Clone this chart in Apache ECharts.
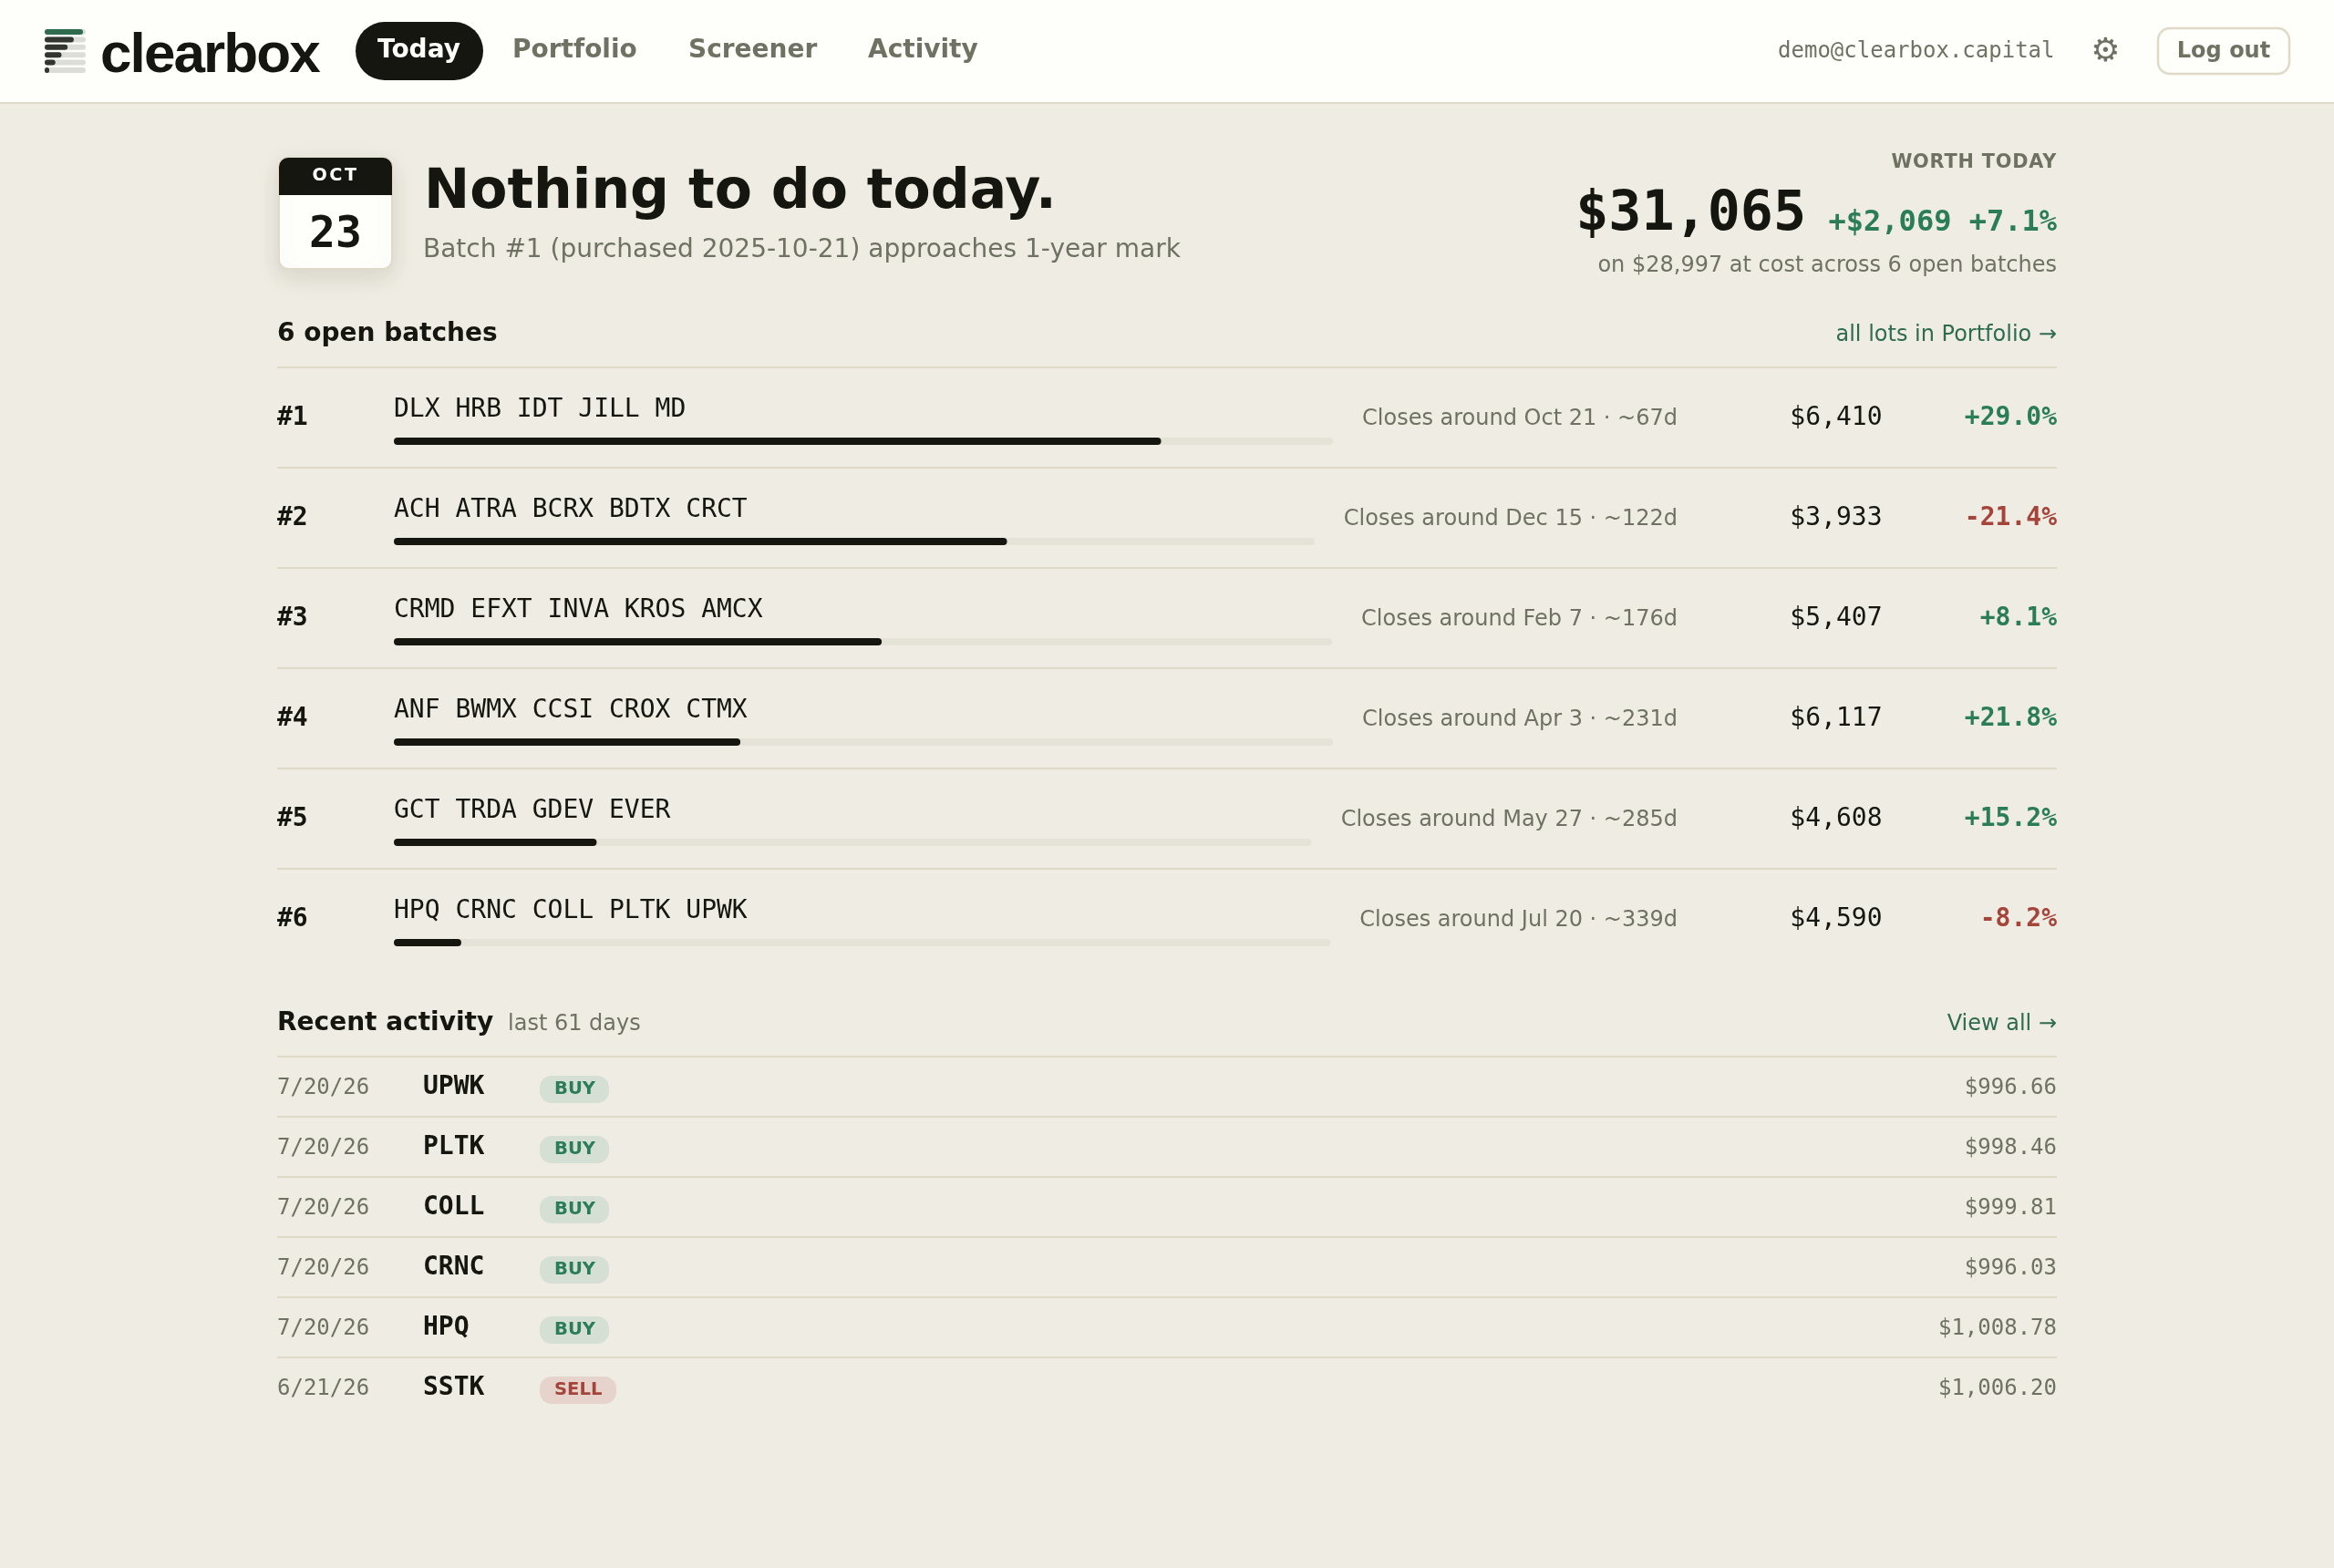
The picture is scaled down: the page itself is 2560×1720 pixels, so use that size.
<!DOCTYPE html>
<html>
<head>
<meta charset="utf-8">
<title>clearbox</title>
<script src="https://cdn.jsdelivr.net/npm/echarts@6/dist/echarts.min.js"></script>
<style>
html, body { margin: 0; padding: 0; background: #efede3; }
#main { width: 2560px; height: 1720px; }
</style>
</head>
<body>
<div id="main"></div>
<script>
var navItems = ['Today', 'Portfolio', 'Screener', 'Activity'];
var batchIds = ['#1', '#2', '#3', '#4', '#5', '#6'];
var batchTickers = ['DLX HRB IDT JILL MD', 'ACH ATRA BCRX BDTX CRCT', 'CRMD EFXT INVA KROS AMCX', 'ANF BWMX CCSI CROX CTMX', 'GCT TRDA GDEV EVER', 'HPQ CRNC COLL PLTK UPWK'];
var batchCloses = ['Oct 21', 'Dec 15', 'Feb 7', 'Apr 3', 'May 27', 'Jul 20'];
var batchDaysLeft = [67, 122, 176, 231, 285, 339];
var batchProgress = [81.7, 66.6, 52.0, 36.9, 22.1, 7.2];
var batchWorth = ['$6,410', '$3,933', '$5,407', '$6,117', '$4,608', '$4,590'];
var batchReturn = [29.0, -21.4, 8.1, 21.8, 15.2, -8.2];

var activityDates = ['7/20/26', '7/20/26', '7/20/26', '7/20/26', '7/20/26', '6/21/26'];
var activityTickers = ['UPWK', 'PLTK', 'COLL', 'CRNC', 'HPQ', 'SSTK'];
var activitySides = ['BUY', 'BUY', 'BUY', 'BUY', 'BUY', 'SELL'];
var activityAmounts = ['$996.66', '$998.46', '$999.81', '$996.03', '$1,008.78', '$1,006.20'];

var logoBars = [100, 76, 60, 44, 28, 12];

var INK = '#15160f', MUTED = '#6f7263', GREEN = '#2a7d56', RED = '#a5443a', LINK = '#2e6b4f', RULE = '#dfd9c8', PAPER = '#fefefa';
var SANS = '"DejaVu Sans"', MONO = '"DejaVu Sans Mono"';
var RIGHT = 2256;

var chart = echarts.init(document.getElementById('main'));
var els = [];

//canvas text has no letter spacing in zrender, so spaced text gets its own layer
var spacedLayers = { 1: '-1.9px', 2: '2.5px', 3: '0.8px' };
for (var z in spacedLayers) {
	chart.getZr().painter.getLayer(+z).ctx.letterSpacing = spacedLayers[z];
}

//text helper, base is the baseline of the text
function txt(text, x, base, size, weight, family, fill, align, zlevel) {
	els.push({
		type: 'text',
		x: x,
		y: base - 0.26 * size,
		zlevel: zlevel || 0,
		style: {
			text: text,
			fill: fill,
			align: align || 'left',
			verticalAlign: 'middle',
			font: weight + ' ' + size + 'px ' + family
		}
	});
}

function box(x, y, w, h, fill, r, extra) {
	var style = { fill: fill };
	for (var k in extra) {
		style[k] = extra[k];
	}
	els.push({ type: 'rect', shape: { x: x, y: y, width: w, height: h, r: r || 0 }, style: style });
}

//closes text is right aligned, the bar track takes what is left of the row
function trackEnd(text) {
	var ctx = document.createElement('canvas').getContext('2d');
	ctx.font = 'normal 24px ' + SANS;
	return 1840 - ctx.measureText(text).width - 32;
}

/* top bar */
box(0, 0, 2560, 112, PAPER);
box(0, 112, 2560, 2, RULE);
for (var i = 0; i < logoBars.length; i++) {
	box(49, 32 + i * 8.4, 45, 6, '#dcdcd8', 3);
	box(49, 32 + i * 8.4, 42 * logoBars[i] / 100, 6, i ? '#33352f' : LINK, 3);
}
txt('clearbox', 110, 78, 62, 'bold', '"Liberation Sans"', INK, 'left', 1);
box(390, 24, 140, 64, INK, 32);
txt(navItems[0], 414, 63, 28, 'bold', SANS, PAPER);
txt(navItems[1], 562, 63, 28, 'bold', SANS, MUTED);
txt(navItems[2], 755, 63, 28, 'bold', SANS, MUTED);
txt(navItems[3], 952, 63, 28, 'bold', SANS, MUTED);
txt('demo@clearbox.capital', 2253.5, 63, 24, 'normal', MONO, MUTED, 'right');
txt('\u2699', 2309.5, 67, 36, 'normal', SANS, MUTED, 'center');
box(2367, 31, 144, 50, PAPER, 13, { stroke: RULE, lineWidth: 2.5 });
txt('Log out', 2439, 63, 24, 'bold', SANS, MUTED, 'center');

/* calendar */
box(306, 173, 124, 122, PAPER, 10, { stroke: RULE, lineWidth: 2, shadowBlur: 26, shadowOffsetY: 8, shadowColor: 'rgba(40,38,20,0.12)' });
box(306, 173, 124, 41, INK, [10, 10, 0, 0]);
txt('OCT', 368, 198, 19.2, 'bold', SANS, PAPER, 'center', 2);
txt('23', 368, 271, 48, 'bold', MONO, INK, 'center');

/* headline */
txt('Nothing to do today.', 465, 228, 60, 'bold', SANS, INK);
txt('Batch #1 (purchased 2025-10-21) approaches 1-year mark', 464, 282, 28, 'normal', SANS, MUTED);
txt('WORTH TODAY', RIGHT, 184, 20.8, 'bold', SANS, MUTED, 'right', 3);
txt('$31,065', 1981, 252, 60, 'bold', MONO, INK, 'right');
txt('+$2,069 +7.1%', RIGHT, 253, 32, 'bold', MONO, GREEN, 'right');
txt('on $28,997 at cost across 6 open batches', RIGHT, 298, 24, 'normal', SANS, MUTED, 'right');

/* open batches */
txt('6 open batches', 304, 374, 28, 'bold', SANS, INK);
txt('all lots in Portfolio \u2192', RIGHT, 374, 24, 'normal', SANS, LINK, 'right');

var grids = [], xAxes = [], yAxes = [], series = [];
for (var i = 0; i < batchIds.length; i++) {
	var rowY = 110 * i;
	var closes = 'Closes around ' + batchCloses[i] + ' \u00b7 ~' + batchDaysLeft[i] + 'd';
	var ret = batchReturn[i];
	box(304, 402 + rowY, RIGHT - 304, 2, RULE);
	txt(batchIds[i], 304, 466 + rowY, 28, 'bold', MONO, INK);
	txt(batchTickers[i], 432, 457 + rowY, 28, 'normal', MONO, INK);
	txt(closes, 1840, 466 + rowY, 24, 'normal', SANS, MUTED, 'right');
	txt(batchWorth[i], 2064.5, 466 + rowY, 28, 'normal', MONO, INK, 'right');
	txt((ret > 0 ? '+' : '') + ret.toFixed(1) + '%', RIGHT, 466 + rowY, 28, 'bold', MONO, ret > 0 ? GREEN : RED, 'right');

	grids.push({ left: 432, top: 480 + rowY, width: trackEnd(closes) - 432, height: 8 });
	xAxes.push({ gridIndex: i, type: 'value', min: 0, max: 100, show: false });
	yAxes.push({ gridIndex: i, type: 'category', data: [batchIds[i]], show: false });
	series.push({
		type: 'bar',
		xAxisIndex: i,
		yAxisIndex: i,
		barWidth: 8,
		showBackground: true,
		backgroundStyle: { color: '#e5e3d7', borderRadius: 4 },
		itemStyle: { color: INK, borderRadius: 4 },
		silent: true,
		data: [batchProgress[i]]
	});
}

/* recent activity */
txt('Recent activity', 304, 1130, 28, 'bold', SANS, INK);
txt('last 61 days', 557, 1130, 24, 'normal', SANS, MUTED);
txt('View all \u2192', RIGHT, 1130, 24, 'normal', SANS, LINK, 'right');
for (var i = 0; i < activityDates.length; i++) {
	var rowY = 66 * i;
	var sell = activitySides[i] === 'SELL';
	box(304, 1158 + rowY, RIGHT - 304, 2, RULE);
	txt(activityDates[i], 304, 1200 + rowY, 24, 'normal', MONO, MUTED);
	txt(activityTickers[i], 464, 1200 + rowY, 28, 'bold', MONO, INK);
	box(592, 1180 + rowY, sell ? 84 : 76, 30, sell ? '#e6d3cc' : '#d5dfd4', 13);
	txt(activitySides[i], 608, 1200 + rowY, 19.6, 'bold', SANS, sell ? RED : GREEN);
	txt(activityAmounts[i], RIGHT, 1200 + rowY, 24, 'normal', MONO, MUTED, 'right');
}

chart.setOption({
	backgroundColor: '#efede3',
	animation: false,
	grid: grids,
	xAxis: xAxes,
	yAxis: yAxes,
	series: series,
	graphic: { elements: els }
});
</script>
</body>
</html>
